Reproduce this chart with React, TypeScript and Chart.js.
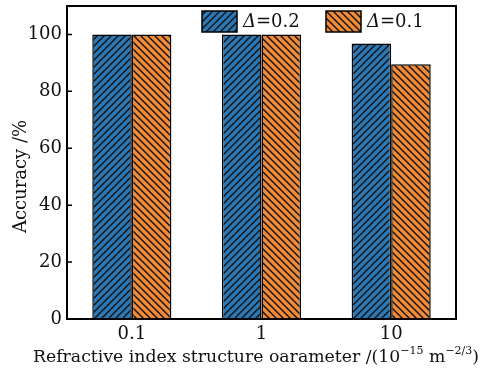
import React, { useEffect, useRef } from "react";
import { Chart, registerables } from "chart.js";

Chart.register(...registerables);

const categories = ["0.1", "1", "10"];
const seriesLabels = ["0.2", "0.1"];
const delta02 = [100, 100, 96.8];
const delta01 = [100, 100, 89.5];
const yTicks = [0, 20, 40, 60, 80, 100];

const FONT = "'DejaVu Serif', serif";
const BLUE = "#2b78b4";
const ORANGE = "#f28a36";

function makePattern(color: string, dir: 1 | -1): CanvasPattern | string {
  const s = 7;
  const c = document.createElement("canvas");
  c.width = s;
  c.height = s;
  const g = c.getContext("2d");
  if (!g) return color;
  g.fillStyle = color;
  g.fillRect(0, 0, s, s);
  g.strokeStyle = "#111";
  g.lineWidth = 1.4;
  g.beginPath();
  for (let k = -1; k <= 1; k++) {
    if (dir === 1) {
      g.moveTo(k * s - 1, s + 1);
      g.lineTo(k * s + s + 1, -1);
    } else {
      g.moveTo(k * s - 1, -1);
      g.lineTo(k * s + s + 1, s + 1);
    }
  }
  g.stroke();
  return g.createPattern(c, "repeat") || color;
}

const framePlugin = {
  id: "frameAndText",
  afterDraw(chart: any) {
    const ctx = chart.ctx as CanvasRenderingContext2D;
    const a = chart.chartArea;
    const yScale = chart.scales.y;
    ctx.save();
    ctx.strokeStyle = "#000";
    ctx.lineWidth = 2;
    ctx.strokeRect(a.left, a.top, a.right - a.left, a.bottom - a.top);
    ctx.lineWidth = 1.5;
    ctx.beginPath();
    for (const v of yTicks) {
      const y = yScale.getPixelForValue(v);
      ctx.moveTo(a.left, y);
      ctx.lineTo(a.left + 5, y);
    }
    ctx.stroke();

    const ds = chart.data.datasets;
    const boxes = [202, 326];
    ctx.textBaseline = "middle";
    ds.forEach((d: any, i: number) => {
      const x = boxes[i];
      const y = 11;
      ctx.fillStyle = d.backgroundColor;
      ctx.fillRect(x, y, 35, 21);
      ctx.strokeStyle = "#000";
      ctx.lineWidth = 1.5;
      ctx.strokeRect(x, y, 35, 21);
      ctx.fillStyle = "#111";
      ctx.font = "italic 18px " + FONT;
      let tx = x + 41;
      ctx.textAlign = "left";
      ctx.fillText("Δ", tx, y + 11);
      tx += ctx.measureText("Δ").width;
      ctx.font = "18px " + FONT;
      ctx.fillText("=" + seriesLabels[i], tx, y + 11);
    });

    ctx.save();
    ctx.translate(21, (a.top + a.bottom) / 2 + 14);
    ctx.rotate(-Math.PI / 2);
    ctx.textAlign = "center";
    ctx.font = "18px " + FONT;
    ctx.fillStyle = "#111";
    ctx.fillText("Accuracy /%", 0, 0);
    ctx.restore();

    const parts: [string, boolean][] = [
      ["Refractive index structure oarameter /(10", false],
      ["−15", true],
      [" m", false],
      ["−2/3", true],
      [")", false],
    ];
    const mainFont = "17.3px " + FONT;
    const supFont = "11px " + FONT;
    let total = 0;
    for (const [t, sup] of parts) {
      ctx.font = sup ? supFont : mainFont;
      total += ctx.measureText(t).width;
    }
    let x = 256 - total / 2;
    const base = 362;
    ctx.textAlign = "left";
    ctx.textBaseline = "alphabetic";
    ctx.fillStyle = "#111";
    for (const [t, sup] of parts) {
      ctx.font = sup ? supFont : mainFont;
      ctx.fillText(t, x, sup ? base - 8 : base);
      x += ctx.measureText(t).width;
    }
    ctx.restore();
  },
};

export default function App() {
  const ref = useRef<HTMLCanvasElement>(null);
  useEffect(() => {
    if (!ref.current) return;
    const chart = new Chart(ref.current, {
      type: "bar",
      data: {
        labels: categories,
        datasets: [
          {
            label: "Δ=0.2",
            data: delta02,
            backgroundColor: makePattern(BLUE, 1) as any,
            borderColor: "#000",
            borderWidth: 1.5,
          },
          {
            label: "Δ=0.1",
            data: delta01,
            backgroundColor: makePattern(ORANGE, -1) as any,
            borderColor: "#000",
            borderWidth: 1.5,
          },
        ],
      },
      options: {
        animation: false,
        responsive: false,
        layout: { padding: { top: 6, right: 37, left: 0, bottom: 0 } },
        plugins: { legend: { display: false }, tooltip: { enabled: false } },
        datasets: { bar: { barPercentage: 1, categoryPercentage: 0.61 } },
        scales: {
          x: {
            grid: { display: false, drawTicks: false },
            border: { display: false },
            ticks: { color: "#111", font: { family: FONT, size: 18 }, padding: 5 },
            afterFit(s: any) {
              s.height = 53;
              s.paddingLeft = 0;
              s.paddingRight = 0;
            },
          },
          y: {
            min: 0,
            max: 110,
            grid: { display: false, drawTicks: false },
            border: { display: false },
            ticks: { stepSize: 20, color: "#111", font: { family: FONT, size: 18 }, padding: 5 },
            afterBuildTicks(s: any) {
              s.ticks = s.ticks.filter((t: any) => yTicks.includes(t.value));
            },
            afterFit(s: any) {
              s.width = 67;
              s.paddingTop = 0;
              s.paddingBottom = 0;
            },
          },
        },
      },
      plugins: [framePlugin],
    });
    return () => chart.destroy();
  }, []);
  return (
    <div style={{ position: "absolute", left: 0, top: 0, width: 493, height: 372, background: "#fff" }}>
      <canvas ref={ref} width={493} height={372} />
    </div>
  );
}
